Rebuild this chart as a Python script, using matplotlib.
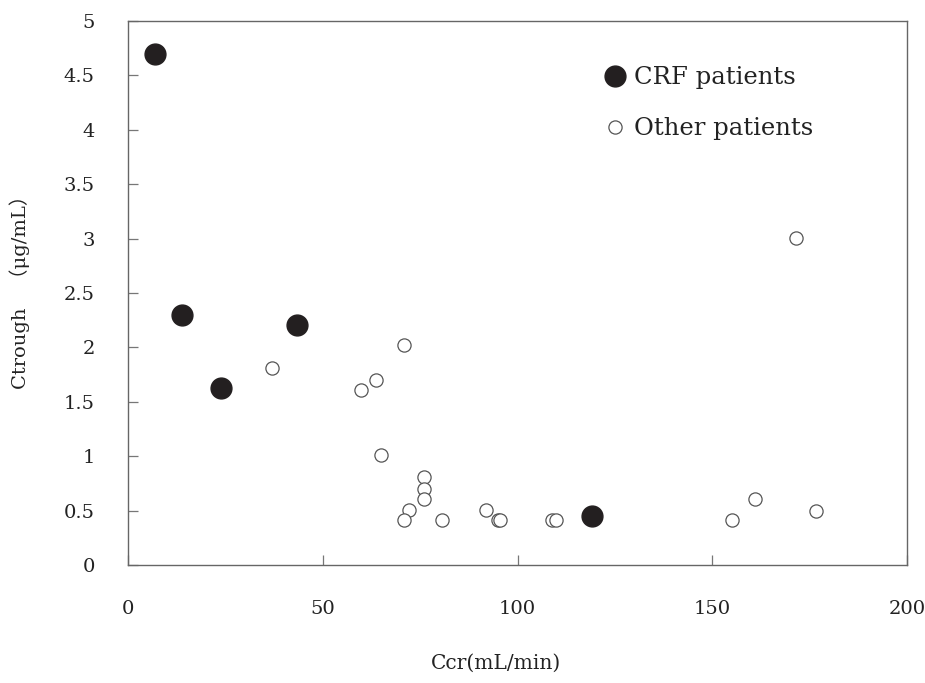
import matplotlib
matplotlib.use("Agg")
import matplotlib.pyplot as plt

# CRF patients (filled)
crf_ccr = [6.9, 13.9, 24.0, 43.3, 119.1]
crf_ctrough = [4.70, 2.30, 1.63, 2.21, 0.45]

# other patients (open)
oth_ccr = [36.9, 59.7, 63.7, 70.8, 65.0, 76.1, 76.1, 76.1, 72.1, 70.9, 80.7,
           91.8, 94.9, 95.5, 108.8, 110.0, 171.4, 161.1, 155.1, 176.7]
oth_ctrough = [1.81, 1.61, 1.70, 2.02, 1.01, 0.81, 0.70, 0.61, 0.51, 0.41, 0.41,
               0.51, 0.41, 0.41, 0.41, 0.41, 3.01, 0.61, 0.41, 0.50]

xticks = [0, 50, 100, 150, 200]
yticks = [0, 0.5, 1, 1.5, 2, 2.5, 3, 3.5, 4, 4.5, 5]
ytick_labels = ['0', '0.5', '1', '1.5', '2', '2.5', '3', '3.5', '4', '4.5', '5']

plt.rcParams['font.family'] = ['DejaVu Serif', 'Noto Sans CJK JP']

fig = plt.figure(figsize=(9.25, 6.83), dpi=100)
ax = fig.add_axes([128/925, 1-565/683, 779/925, 544/683])

ax.plot(crf_ccr, crf_ctrough, 'o', ms=15, mfc='#231f20', mec='#231f20',
        label='CRF patients', zorder=3)
ax.plot(oth_ccr, oth_ctrough, 'o', ms=9.5, mfc='white', mec='#555555',
        mew=0.9, label='Other patients', zorder=2)

ax.set_xlim(0, 200)
ax.set_ylim(0, 5)
ax.set_xticks(xticks)
ax.set_yticks(yticks)
ax.set_yticklabels(ytick_labels)

for s in ax.spines.values():
    s.set_color('#666666')
    s.set_linewidth(1.0)
ax.tick_params(axis='both', direction='in', length=7, width=0.9,
               color='#777777', labelsize=14, labelcolor='#222222')
ax.tick_params(axis='x', pad=25)
ax.tick_params(axis='y', pad=24)

leg = ax.legend(loc='upper left', bbox_to_anchor=(0.585, 0.948), frameon=False,
                fontsize=17.5, handletextpad=0.15, labelspacing=1.15,
                handlelength=1.2, borderpad=0.2)
for t in leg.get_texts():
    t.set_color('#222222')

fig.text(496/925, 1-663/683, 'Ccr(mL/min)', ha='center', va='center',
         fontsize=14.5, color='#222222')
fig.text(20/925, 1-287/683, 'Ctrough\u3000（μg/mL）', ha='center', va='center',
         rotation=90, fontsize=14, color='#222222')

fig.savefig('out.png', dpi=100)
